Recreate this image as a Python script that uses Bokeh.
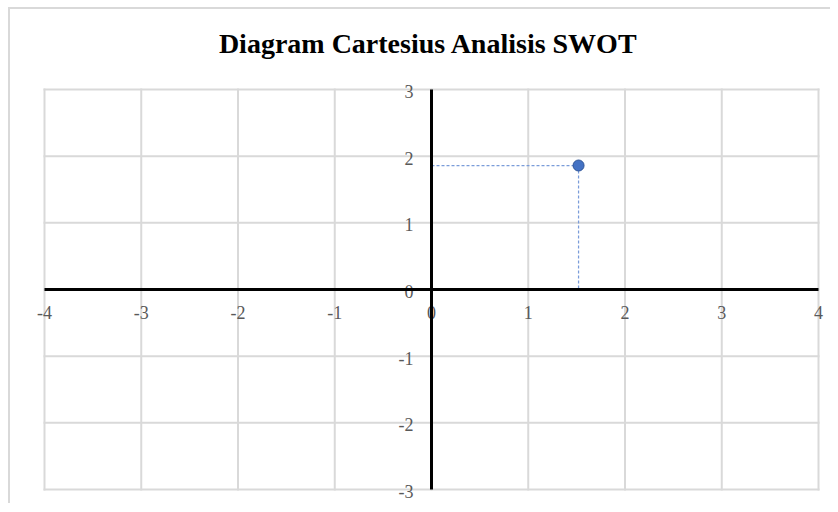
from bokeh.plotting import figure
from bokeh.core.properties import value
from bokeh.embed import file_html
from bokeh.resources import INLINE

title_text = "Diagram Cartesius Analisis SWOT"
x_ticks = [-4, -3, -2, -1, 0, 1, 2, 3, 4]
y_ticks = [-3, -2, -1, 0, 1, 2, 3]
x_tick_labels = ["-4", "-3", "-2", "-1", "0", "1", "2", "3", "4"]
y_tick_labels = ["-3", "-2", "-1", "0", "1", "2", "3"]
point_x = [1.52]
point_y = [1.86]

SERIF = "Liberation Serif"
GRID = "#d9d9d9"

# figure size, plot-area size in pixels and the padding of the frame around the plot area
FIG_W, FIG_H = 822, 496
AREA_W, AREA_H = 774, 400
PAD_L, PAD_T = 34, 80
PAD_R = FIG_W - AREA_W - PAD_L
PAD_B = FIG_H - AREA_H - PAD_T
ux = AREA_W / (x_ticks[-1] - x_ticks[0])
uy = AREA_H / (y_ticks[-1] - y_ticks[0])

p = figure(width=FIG_W, height=FIG_H, output_backend="svg", toolbar_location=None,
           x_range=(x_ticks[0] - PAD_L / ux, x_ticks[-1] + PAD_R / ux),
           y_range=(y_ticks[0] - PAD_B / uy, y_ticks[-1] + PAD_T / uy),
           x_axis_location=None, y_axis_location=None,
           min_border=0)
p.styles = {"border-left": "2px solid #d9d9d9", "border-top": "2px solid #d9d9d9",
            "margin-left": "8px", "margin-top": "7px"}
p.grid.visible = False
p.outline_line_color = None

# gridlines of the plot area
p.segment(x0=x_ticks, y0=y_ticks[0], x1=x_ticks, y1=y_ticks[-1], line_color=GRID, line_width=2, line_cap="square")
p.segment(x0=x_ticks[0], y0=y_ticks, x1=x_ticks[-1], y1=y_ticks, line_color=GRID, line_width=2, line_cap="square")

# title (centered over the plot area)
p.text(x=[(x_ticks[0] + x_ticks[-1]) / 2], y=[y_ticks[-1]], text=[title_text],
       text_font=value(SERIF), text_font_size="28px", text_font_style="bold", text_color="#000000",
       text_align="center", text_baseline="middle", x_offset=-3, y_offset=-46)

# dashed drop lines
p.segment(x0=0, y0=point_y, x1=point_x, y1=point_y, line_color="#7A9CD9", line_width=1.25, line_dash="3 2")
p.segment(x0=point_x, y0=point_y, x1=point_x, y1=0, line_color="#7A9CD9", line_width=1.25, line_dash="3 2")

p.scatter(x=point_x, y=point_y, size=11, fill_color="#4472C4", line_color="#2F5597", line_width=1)

# tick labels
p.text(x=x_ticks, y=[0] * len(x_ticks), text=x_tick_labels, text_font=value(SERIF), text_font_size="18px",
       text_color="#595959", text_align="center", text_baseline="middle", y_offset=23)
p.text(x=[0] * len(y_ticks), y=y_ticks, text=y_tick_labels, text_font=value(SERIF), text_font_size="18px",
       text_color="#595959", text_align="right", text_baseline="middle", x_offset=-18, y_offset=2)

# the two axes through the origin
p.segment(x0=[x_ticks[0], 0], y0=[0, y_ticks[0]], x1=[x_ticks[-1], 0], y1=[0, y_ticks[-1]],
          line_color="black", line_width=3)

open("out.html", "w").write(file_html(p, INLINE))
